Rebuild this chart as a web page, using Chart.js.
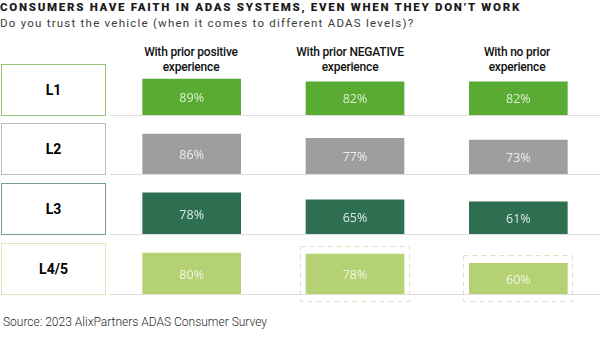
<!DOCTYPE html>
<html><head><meta charset="utf-8">
<script src="https://cdn.jsdelivr.net/npm/chart.js@4.4.1/dist/chart.umd.min.js"></script>
<style>
html,body{margin:0;padding:0;background:#fff;}
body{width:600px;height:339px;position:relative;overflow:hidden;font-family:Roboto,"Open Sans",sans-serif;}
.t{position:absolute;white-space:nowrap;}
#title{left:0;top:0;font-weight:900;font-size:11.5px;letter-spacing:1.72px;color:#1c1c1c;line-height:14px;}
#subtitle{left:0;top:16px;font-weight:400;font-size:11.5px;letter-spacing:1.23px;color:#3c3c3c;line-height:14px;}
#source{left:3px;top:314px;font-weight:300;font-size:12px;color:#2a2a2a;line-height:16px;}
.hdr{position:absolute;top:45px;width:160px;margin-left:-80px;text-align:center;font-weight:500;font-size:12px;letter-spacing:-0.2px;line-height:14.5px;color:#111;}
.lvl{position:absolute;left:1px;width:105px;height:52px;box-sizing:border-box;border:1px solid #ccc;display:flex;align-items:center;justify-content:center;font-weight:700;font-size:14px;color:#000;}
canvas{position:absolute;left:110px;}
</style>
</head><body>
<div id="title" class="t"></div>
<div id="subtitle" class="t"></div>
<div id="source" class="t"></div>
<script>
// ---- data ----
const titleText = "CONSUMERS HAVE FAITH IN ADAS SYSTEMS, EVEN WHEN THEY DON\u2019T WORK";
const subtitleText = "Do you trust the vehicle (when it comes to different ADAS levels)?";
const sourceText = "Source: 2023 AlixPartners ADAS Consumer Survey";
const columns = [["With prior positive", "experience"], ["With prior NEGATIVE", "experience"], ["With no prior", "experience"]];
const levels = ["L1", "L2", "L3", "L4/5"];
const l1Values = [89, 82, 82];
const l2Values = [86, 77, 73];
const l3Values = [78, 65, 61];
const l45Values = [80, 78, 60];
const l45Framed = [1, 2]; // column indexes with dashed frame in L4/5 row

// ---- styles / layout ----
const rowValues = [l1Values, l2Values, l3Values, l45Values];
const rowFrames = [[], [], [], l45Framed];
const barColors = ["#5aab33", "#9e9e9e", "#2e6e51", "#b4d174"];
const labelColors = ["#dcf1cd", "#eeeeee", "#dcebe2", "#f1f7e2"];
const boxBorders = ["#94c57a", "#bdbdbd", "#739c96", "#e1e6b8"];
const boxTops = [64, 123, 183, 243];
const baselines = [115, 174, 234, 294];
const rowScaleMax = [146, 127, 112, 115];
const headerCenters = [191, 350, 517];

document.getElementById('title').textContent = titleText;
document.getElementById('subtitle').textContent = subtitleText;
document.getElementById('source').textContent = sourceText;

columns.forEach((c, i) => {
  const d = document.createElement('div');
  d.className = 'hdr';
  d.style.left = headerCenters[i] + 'px';
  d.innerHTML = c.join('<br>');
  document.body.appendChild(d);
});
levels.forEach((l, i) => {
  const d = document.createElement('div');
  d.className = 'lvl';
  d.style.top = boxTops[i] + 'px';
  d.style.borderColor = boxBorders[i];
  d.textContent = l;
  document.body.appendChild(d);
});

const valueLabels = {
  id: 'valueLabels',
  afterDatasetsDraw(chart, args, opts) {
    const ctx = chart.ctx;
    const meta = chart.getDatasetMeta(0);
    const data = chart.data.datasets[0].data;
    ctx.save();
    ctx.font = '400 12.5px "Open Sans", Roboto, sans-serif';
    ctx.fillStyle = opts.color;
    ctx.textAlign = 'center';
    ctx.textBaseline = 'middle';
    meta.data.forEach((bar, i) => {
      ctx.fillText(data[i] + '%', bar.x, (bar.y + bar.base) / 2 + 1.5);
    });
    ctx.restore();
  }
};
const dashedFrames = {
  id: 'dashedFrames',
  afterDatasetsDraw(chart, args, opts) {
    const cols = opts.columns || [];
    if (!cols.length) return;
    const ctx = chart.ctx;
    const meta = chart.getDatasetMeta(0);
    ctx.save();
    ctx.strokeStyle = '#e3e0c0';
    ctx.lineWidth = 1;
    ctx.setLineDash([5, 4]);
    cols.forEach(i => {
      const bar = meta.data[i];
      const l = Math.round(bar.x - bar.width / 2 - 6) + 0.5;
      const r = Math.round(bar.x + bar.width / 2 + 5) + 0.5;
      const t = Math.round(bar.y - 8) + 0.5;
      const b = Math.round(bar.base + 7) + 0.5;
      ctx.strokeRect(l, t, r - l, b - t);
    });
    ctx.restore();
  }
};

rowValues.forEach((vals, r) => {
  const cv = document.createElement('canvas');
  cv.width = 490; cv.height = 68;
  cv.style.top = (baselines[r] - 59) + 'px';
  cv.style.width = '490px'; cv.style.height = '68px';
  document.body.appendChild(cv);
  new Chart(cv.getContext('2d'), {
    type: 'bar',
    data: {
      labels: columns.map(c => c.join(' ')),
      datasets: [{ data: vals, backgroundColor: barColors[r], borderWidth: 0, barThickness: 98 }]
    },
    options: {
      responsive: false, animation: false, devicePixelRatio: 1,
      layout: { padding: { top: 0, bottom: 9, left: 0, right: 0 } },
      plugins: {
        legend: { display: false }, tooltip: { enabled: false },
        valueLabels: { color: labelColors[r] },
        dashedFrames: { columns: rowFrames[r] }
      },
      scales: {
        x: { display: true, grid: { display: false, drawTicks: false }, ticks: { display: false },
             border: { display: true, color: '#dddddd', width: 1 } },
        y: { display: false, min: 0, max: rowScaleMax[r] }
      }
    },
    plugins: [valueLabels, dashedFrames]
  });
});
</script>
</body></html>
